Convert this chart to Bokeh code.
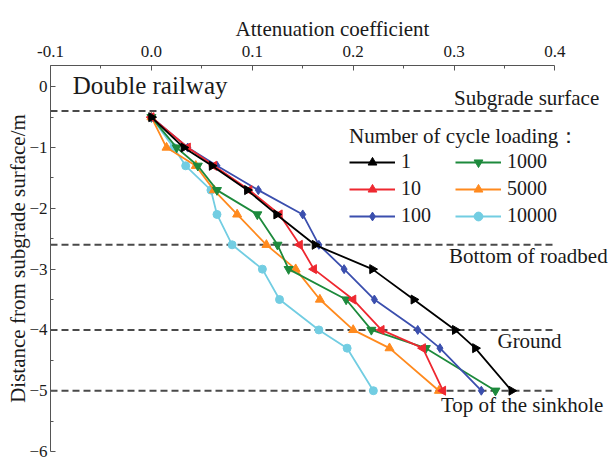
import math
from bokeh.plotting import figure
from bokeh.models import (Range1d, FixedTicker, Legend, LegendItem, Label,
                          PrintfTickFormatter, ColumnDataSource)
from bokeh.embed import file_html
from bokeh.resources import INLINE

# Depth of each measuring point below the subgrade surface (m)
depth = [-0.5, -1.0, -1.3, -1.7, -2.1, -2.6, -3.0, -3.5, -4.0, -4.3, -5.0]

# Attenuation coefficient for each number of loading cycles
coef_1 = [0.0, 0.032, 0.060, 0.095, 0.124, 0.162, 0.219, 0.260, 0.301, 0.321, 0.357]
coef_10 = [0.0, 0.036, 0.062, 0.097, 0.127, 0.147, 0.161, 0.200, 0.228, 0.269, 0.289]
coef_100 = [0.0, 0.036, 0.065, 0.106, 0.150, 0.166, 0.191, 0.221, 0.264, 0.286, 0.327]
coef_1000 = [0.0, 0.025, 0.046, 0.065, 0.105, 0.125, 0.136, 0.193, 0.218, 0.272, 0.341]
coef_5000 = [0.0, 0.015, 0.044, 0.062, 0.085, 0.114, 0.143, 0.167, 0.200, 0.236, 0.285]
coef_10000 = [0.0, 0.022, 0.034, 0.059, 0.065, 0.080, 0.110, 0.127, 0.166, 0.194, 0.220]

cycle_labels = ["1", "10", "100", "1000", "5000", "10000"]

# Layer boundaries
boundary_depths = [-0.4, -2.6, -4.0, -5.0]
boundary_names = ["Subgrade surface", "Bottom of roadbed", "Ground", "Top of the sinkhole"]

x_ticks = [-0.1, 0.0, 0.1, 0.2, 0.3, 0.4]
y_ticks = [-6, -5, -4, -3, -2, -1, 0]

FONT = "Liberation Serif"

series = [
    (coef_1, "#000000", "triangle", -math.pi / 2, 9),
    (coef_10, "#ee2830", "triangle", math.pi / 2, 9),
    (coef_100, "#3b4fae", "diamond", 0.0, 9),
    (coef_1000, "#1d8a3c", "inverted_triangle", 0.0, 9),
    (coef_5000, "#ff8a1e", "triangle", 0.0, 9),
    (coef_10000, "#72cde2", "circle", 0.0, 8),
]

p = figure(width=614, height=460, output_backend="svg", toolbar_location=None,
           x_axis_location="above",
           x_range=Range1d(-0.1, 0.459), y_range=Range1d(-6.0, 0.35),
           min_border_left=50, min_border_top=65, min_border_bottom=9,
           min_border_right=0)
p.outline_line_color = None
p.grid.visible = False
p.background_fill_color = "white"

# Axes
xa = p.xaxis[0]
xa.axis_label = "Attenuation coefficient"
xa.bounds = (x_ticks[0], x_ticks[-1])
xa.ticker = FixedTicker(ticks=x_ticks,
                        minor_ticks=[t + 0.05 for t in x_ticks[:-1]])
xa.formatter = PrintfTickFormatter(format="%.1f")
ya = p.yaxis[0]
ya.axis_label = "Distance from subgrade surface/m"
ya.ticker = FixedTicker(ticks=y_ticks, minor_ticks=[t + 0.5 for t in y_ticks[:-1]])
for ax in (xa, ya):
    ax.axis_label_text_font = FONT
    ax.axis_label_text_font_size = "21px"
    ax.axis_label_text_font_style = "normal"
    ax.axis_label_text_color = "#1a1a1a"
    ax.major_label_text_font = FONT
    ax.major_label_text_font_size = "17px"
    ax.major_label_text_color = "#1a1a1a"
    ax.axis_line_color = "#555555"
    ax.major_tick_line_color = "#555555"
    ax.minor_tick_line_color = "#555555"
    ax.major_tick_in = 5
    ax.major_tick_out = 0
    ax.minor_tick_in = 3
    ax.minor_tick_out = 0
xa.major_label_standoff = 9
xa.axis_label_standoff = 2
ya.major_label_standoff = 3
ya.axis_label_standoff = -4

# Dashed layer boundaries
p.segment(x0=[x_ticks[0]] * len(boundary_depths), x1=[x_ticks[-1]] * len(boundary_depths),
          y0=boundary_depths, y1=boundary_depths,
          line_color="#4a4a4a", line_width=2, line_dash="7 4")

# Boundary captions
caption_pos = [(0.300, -0.18), (0.295, -2.78), (0.343, -4.18), (0.287, -5.24)]
for name, (cx, cy) in zip(boundary_names, caption_pos):
    p.add_layout(Label(x=cx, y=cy, text=name, text_font=FONT, text_font_size="21px",
                       text_baseline="middle", text_color="#1a1a1a"))
p.add_layout(Label(x=-0.078, y=0.016, text="Double railway", text_font=FONT,
                   text_font_size="25px", text_baseline="middle", text_color="#1a1a1a"))

# Curves (drawn last-to-first so the 1-cycle curve sits on top)
renderers = {}
for (vals, color, marker, ang, sz), lab in reversed(list(zip(series, cycle_labels))):
    src = ColumnDataSource(dict(x=vals, y=depth))
    ln = p.line("x", "y", source=src, line_color=color, line_width=1.8)
    mk = p.scatter("x", "y", source=src, marker=marker, angle=ang, size=sz,
                   fill_color=color, line_color=color)
    renderers[lab] = [ln, mk]

legend = Legend(items=[LegendItem(label=lab, renderers=renderers[lab]) for lab in cycle_labels],
                nrows=3, orientation="vertical",
                location=(299, 224), title="Number of cycle loading\uff1a",
                title_text_font=FONT, title_text_font_size="21px",
                title_text_font_style="normal", title_standoff=-5,
                label_text_font=FONT, label_text_font_size="20px",
                label_text_color="#1a1a1a", title_text_color="#1a1a1a",
                glyph_width=46, glyph_height=22, label_standoff=6, label_width=50,
                spacing=4, padding=0, margin=0,
                border_line_color=None, background_fill_alpha=0)
p.add_layout(legend)

open("out.html", "w").write(file_html(p, INLINE))
